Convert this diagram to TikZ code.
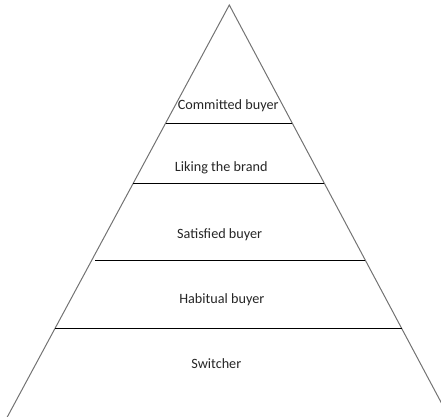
\documentclass[tikz,border=0pt]{standalone}
\usepackage{fontspec}
\setmainfont{Carlito}
\begin{document}
\begin{tikzpicture}[x=1pt,y=-1pt,
  side/.style={draw=black!55, line width=1pt},
  tier/.style={draw=black, line width=0.9pt},
  label/.style={anchor=base, inner sep=0pt, font=\fontsize{14.2}{17}\selectfont, text=black!85}]
  \useasboundingbox (0,0) rectangle (441,416);
  \clip (0,0) rectangle (441,416);
  % apex and the two sides, running off the bottom edge
  \coordinate (apex) at (229.3,5);
  \coordinate (bl) at (7.0,417.5);
  \coordinate (br) at (446.5,412.5);
  \draw[side] (bl) -- (apex) -- (br);
  % tier boundaries
  \coordinate (l1) at (165.7,123.3); \coordinate (r1) at (292.3,123.3);
  \coordinate (l2) at (133.4,183.3); \coordinate (r2) at (324.3,183.3);
  \coordinate (l3) at (95.0,260.3);  \coordinate (r3) at (365.3,260.3);
  \coordinate (l4) at (55.2,328.7);  \coordinate (r4) at (401.7,328.7);
  \draw[tier] (l1) -- (r1);
  \draw[tier] (l2) -- (r2);
  \draw[tier] (l3) -- (r3);
  \draw[tier] (l4) -- (r4);
  % tier names
  \node[label] (t1) at (228.2,109.5) {Committed buyer};
  \node[label] (t2) at (221.2,171.7) {Liking the brand};
  \node[label] (t3) at (219.7,238.3) {Satisfied buyer};
  \node[label] (t4) at (221.8,303.3) {Habitual buyer};
  \node[label] (t5) at (216.3,368.3) {Switcher};
\end{tikzpicture}
\end{document}
